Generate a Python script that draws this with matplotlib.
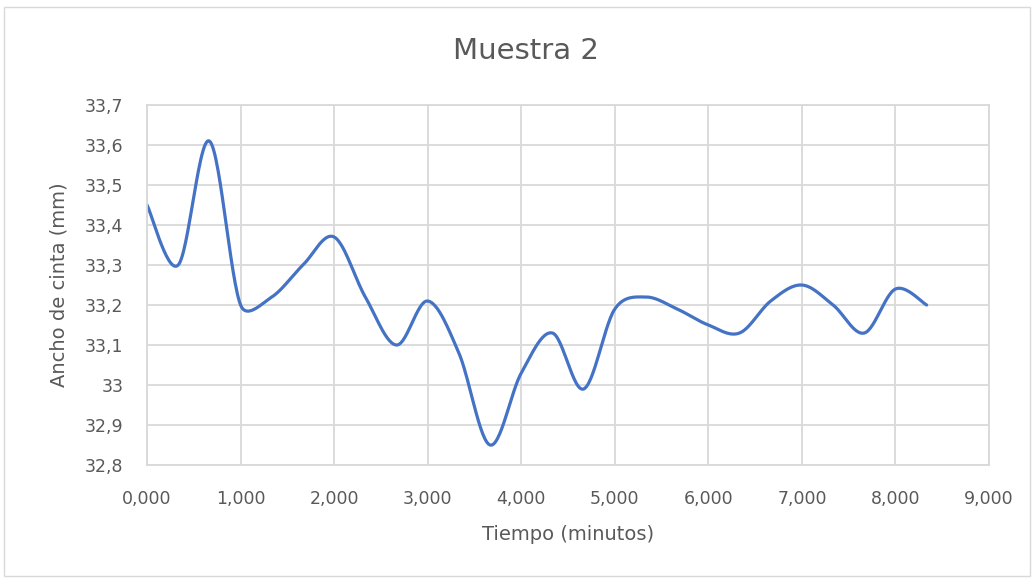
import numpy as np
import matplotlib.pyplot as plt
from matplotlib.ticker import FuncFormatter, MultipleLocator
from matplotlib.patches import Rectangle

# datos: ancho de cinta cada 20 s
tiempo = [0, 1/3, 2/3, 1, 4/3, 5/3, 2, 7/3, 8/3, 3, 10/3, 11/3, 4, 13/3, 14/3,
          5, 16/3, 17/3, 6, 19/3, 20/3, 7, 22/3, 23/3, 8, 25/3]
ancho = [33.45, 33.30, 33.61, 33.20, 33.22, 33.30, 33.37, 33.22, 33.10, 33.21,
         33.08, 32.85, 33.03, 33.13, 32.99, 33.19, 33.22, 33.19, 33.15, 33.13,
         33.21, 33.25, 33.20, 33.13, 33.24, 33.20]


def suavizar(x, y, sx, sy, n=30):
    # curva suavizada tipo Excel: bezier, tangente (p2-p0)/6 limitada a la
    # mitad del tramo; se calcula en pixeles (sx, sy = px por unidad)
    P = np.column_stack([np.asarray(x, float) * sx, np.asarray(y, float) * sy])
    P = np.vstack([P[0], P, P[-1]])
    t = np.linspace(0, 1, n)[:, None]
    out = []
    for i in range(1, len(P) - 2):
        p0, p1, p2, p3 = P[i - 1], P[i], P[i + 1], P[i + 2]
        seg = np.linalg.norm(p2 - p1)
        v1 = (p2 - p0) / 6
        v2 = (p3 - p1) / 6
        for v in (v1, v2):
            L = np.linalg.norm(v)
            if L > seg / 2:
                v *= (seg / 2) / L
        c1 = p1 + v1
        c2 = p2 - v2
        b = (1 - t) ** 3 * p1 + 3 * (1 - t) ** 2 * t * c1 + 3 * (1 - t) * t ** 2 * c2 + t ** 3 * p2
        out.append(b)
    b = np.vstack(out)
    return b[:, 0] / sx, b[:, 1] / sy


gris = '#595959'
plt.rcParams['font.family'] = ['DejaVu Sans']

fig = plt.figure(figsize=(10.34, 5.78), dpi=100)
fig.patches.append(Rectangle((0.004, 0.004), 0.992, 0.984, transform=fig.transFigure,
                             fill=False, edgecolor='#d9d9d9', linewidth=1))
ax = fig.add_axes([0.1422, 0.1955, 0.8143, 0.6228])

cx, cy = suavizar(tiempo, ancho, 842 / 9, 360 / 0.9)
ax.plot(cx, cy, color='#4472C4', linewidth=2.3, solid_capstyle='round')

ax.set_xlim(0, 9)
ax.set_ylim(32.8, 33.7)
ax.xaxis.set_major_locator(MultipleLocator(1))
ax.yaxis.set_major_locator(MultipleLocator(0.1))
ax.xaxis.set_major_formatter(FuncFormatter(lambda v, p: f'{v:.3f}'.replace('.', ',')))
ax.yaxis.set_major_formatter(FuncFormatter(lambda v, p: f'{round(v, 1):g}'.replace('.', ',')))

ax.grid(True, color='#d9d9d9', linewidth=1.3)
ax.set_axisbelow(True)
for s in ax.spines.values():
    s.set_color('#d9d9d9')
    s.set_linewidth(1.3)
ax.tick_params(length=0, labelsize=12.5, labelcolor=gris)
ax.tick_params(axis='x', pad=18)
ax.tick_params(axis='y', pad=17)

fig.suptitle('Muestra 2', x=0.509, y=0.912, va='center', fontsize=21, color=gris)
ax.set_xlabel('Tiempo (minutos)', fontsize=14, color=gris, labelpad=12)
ax.set_ylabel('Ancho de cinta (mm)', fontsize=14, color=gris, labelpad=12)

fig.savefig('out.png', dpi=100)
